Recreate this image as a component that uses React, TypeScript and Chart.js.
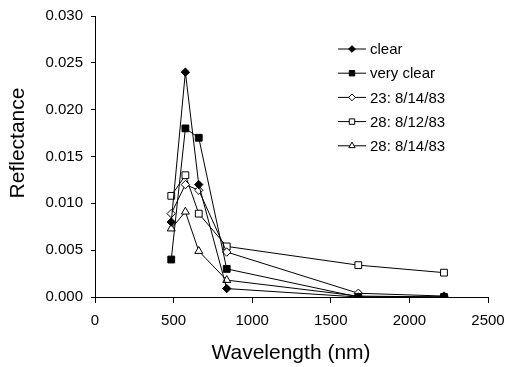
import React, { useEffect, useRef } from "react";
import { Chart, registerables } from "chart.js";
import { drawPoint } from "chart.js/helpers";

Chart.register(...registerables);

const wavelengths = [485, 575, 660, 838, 1675, 2220];
const clear = [0.008, 0.024, 0.012, 0.0009, 0.0, 0.0];
const veryClear = [0.004, 0.018, 0.017, 0.003, 0.0, 0.0];
const s23_0814 = [0.0089, 0.012, 0.0114, 0.0048, 0.0004, 0.0001];
const s28_0812 = [0.0108, 0.013, 0.0089, 0.0054, 0.0034, 0.0026];
const s28_0814 = [0.0073, 0.0091, 0.0049, 0.0018, 0.0001, 0.0];
const seriesLabels = ["clear", "very clear", "23: 8/14/83", "28: 8/12/83", "28: 8/14/83"];
const xTitle = "Wavelength (nm)";
const yTitle = "Reflectance";

const FONT = "'Liberation Sans', Arial, Helvetica, sans-serif";

const toPts = (vals: number[]) => vals.map((v, i) => ({ x: wavelengths[i], y: v }));

const legendPlugin = {
  id: "customLegend",
  afterDraw(chart: any) {
    const ctx = chart.ctx;
    ctx.save();
    const x0 = 338;
    const x1 = 366;
    const startY = 49;
    const gap = 24.2;
    chart.data.datasets.forEach((ds: any, i: number) => {
      const y = startY + i * gap;
      ctx.strokeStyle = "#000";
      ctx.lineWidth = 1;
      ctx.beginPath();
      ctx.moveTo(x0, y);
      ctx.lineTo(x1, y);
      ctx.stroke();
      ctx.fillStyle = ds.pointBackgroundColor;
      ctx.strokeStyle = "#000";
      ctx.lineWidth = 1;
      drawPoint(ctx, { pointStyle: ds.pointStyle, radius: ds.pointRadius * 0.8, borderWidth: 1, rotation: 0 } as any, (x0 + x1) / 2, y);
      ctx.fillStyle = "#000";
      ctx.font = `15px ${FONT}`;
      ctx.textBaseline = "middle";
      ctx.textAlign = "left";
      ctx.fillText(ds.label, 370, y + 1);
    });
    // y title
    ctx.save();
    ctx.translate(18, 143);
    ctx.rotate(-Math.PI / 2);
    ctx.font = `21px ${FONT}`;
    ctx.textAlign = "center";
    ctx.textBaseline = "middle";
    ctx.fillText(yTitle, 0, 0);
    ctx.restore();
    // x title
    ctx.font = `21px ${FONT}`;
    ctx.textAlign = "center";
    ctx.textBaseline = "middle";
    ctx.fillText(xTitle, 291, 353);
    ctx.restore();
  },
};

export default function App() {
  const ref = useRef<HTMLCanvasElement>(null);
  useEffect(() => {
    if (!ref.current) return;
    const mk = (label: string, data: number[], style: string, fill: string, r: number) => ({
      label,
      data: toPts(data),
      borderColor: "#000",
      borderWidth: 1,
      pointStyle: style,
      pointRadius: r,
      pointBackgroundColor: fill,
      pointBorderColor: "#000",
      pointBorderWidth: 1,
      tension: 0,
      fill: false,
    });
    const chart = new Chart(ref.current, {
      type: "line",
      data: {
        datasets: [
          mk(seriesLabels[0], clear, "rectRot", "#000", 4.2),
          mk(seriesLabels[1], veryClear, "rect", "#000", 4.8),
          mk(seriesLabels[2], s23_0814, "rectRot", "#fff", 4.2),
          mk(seriesLabels[3], s28_0812, "rect", "#fff", 4.8),
          mk(seriesLabels[4], s28_0814, "triangle", "#fff", 4.6),
        ] as any,
      },
      options: {
        animation: false,
        responsive: true,
        maintainAspectRatio: false,
        layout: { padding: { top: 16, right: 18, left: 0, bottom: 0 } },
        plugins: { legend: { display: false }, tooltip: { enabled: false } },
        scales: {
          x: {
            type: "linear",
            min: 0,
            max: 2500,
            ticks: {
              stepSize: 500,
              color: "#000",
              font: { family: FONT, size: 15 },
              padding: 9,
              maxRotation: 0,
              callback: (v: any) => String(v),
            },
            grid: { drawOnChartArea: false, drawTicks: true, tickLength: 6, color: "#000" },
            border: { display: true, color: "#000", width: 1 },
            afterFit: (s: any) => { s.height = 70; s.paddingLeft = 0; s.paddingRight = 0; },
          },
          y: {
            min: 0,
            max: 0.03,
            ticks: {
              stepSize: 0.005,
              color: "#000",
              font: { family: FONT, size: 15 },
              padding: 8,
              callback: (v: any) => Number(v).toFixed(3),
            },
            grid: { drawOnChartArea: false, drawTicks: true, tickLength: 4, color: "#000" },
            border: { display: true, color: "#000", width: 1 },
            afterFit: (s: any) => { s.width = 95; s.paddingTop = 0; s.paddingBottom = 0; },
          },
        },
      },
      plugins: [legendPlugin],
    });
    return () => chart.destroy();
  }, []);
  return (
    <div style={{ position: "fixed", left: 0, top: 0, width: 506, height: 367, background: "#fff" }}>
      <canvas ref={ref} />
    </div>
  );
}
